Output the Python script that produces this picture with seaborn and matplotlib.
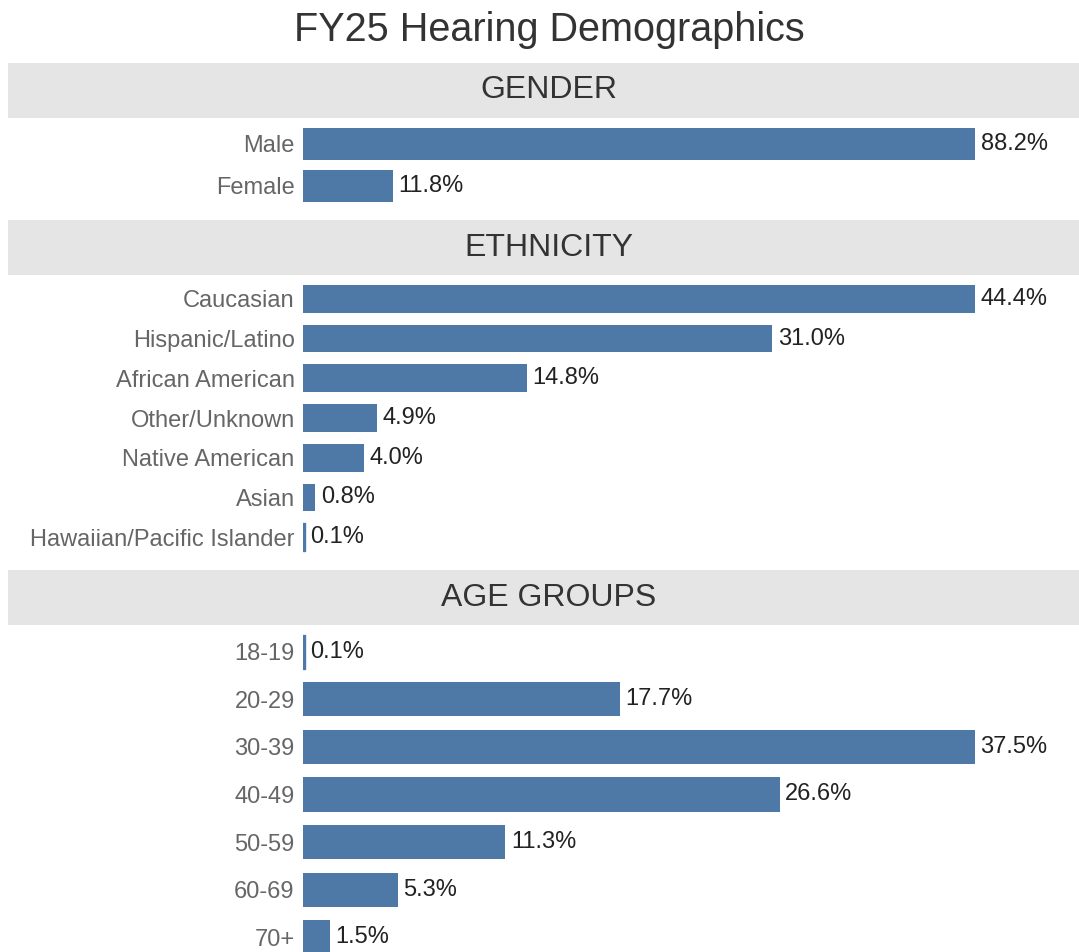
import pandas as pd
import seaborn as sns
import matplotlib.pyplot as plt

# values (percent)
gender_labels = ["Male", "Female"]
gender_values = [88.2, 11.8]

ethnicity_labels = ["Caucasian", "Hispanic/Latino", "African American", "Other/Unknown",
                    "Native American", "Asian", "Hawaiian/Pacific Islander"]
ethnicity_values = [44.4, 31.0, 14.8, 4.9, 4.0, 0.8, 0.1]

age_labels = ["18-19", "20-29", "30-39", "40-49", "50-59", "60-69", "70+"]
age_values = [0.1, 17.7, 37.5, 26.6, 11.3, 5.3, 1.5]

sns.set_theme(style="white")
plt.rcParams['font.family'] = ['Liberation Sans', 'DejaVu Sans']

W, H = 1079, 952
BAR_COLOR = "#4e79a7"

fig = plt.figure(figsize=(W / 100, H / 100), dpi=100)
fig.text(549 / W, 1 - 30 / H, "FY25 Hearing Demographics", ha="center", va="center",
         fontsize=28.5, color="#333333")


def px_axes(x0, y0, x1, y1):
    # pixel box (top-left origin) -> figure axes
    return fig.add_axes([x0 / W, 1 - y1 / H, (x1 - x0) / W, (y1 - y0) / H])


def header(title, y0, y1):
    ax = px_axes(8, y0, W, y1)
    ax.set_facecolor("#e5e5e5")
    ax.set_xticks([])
    ax.set_yticks([])
    for s in ax.spines.values():
        s.set_visible(False)
    # text is centred on the figure title, not on the band
    ax.text((549 - 8) / (W - 8), 0.5, title, transform=ax.transAxes, ha="center",
            va="center", fontsize=23, color="#333333")


def section(labels, values, y0, y1, width):
    ax = px_axes(303, y0, 975, y1)
    df = pd.DataFrame({"label": labels, "value": values})
    sns.barplot(data=df, x="value", y="label", color=BAR_COLOR, saturation=1,
                width=width, linewidth=0, ax=ax)
    ax.set_xlim(0, max(values))
    ax.set_ylim(len(labels) - 0.5, -0.5)
    ax.set_xlabel("")
    ax.set_ylabel("")
    ax.set_xticks([])
    ax.tick_params(axis="y", length=0, pad=6, labelsize=17, labelcolor="#666666")
    for s in ax.spines.values():
        s.set_visible(False)
    for p in ax.patches:
        if p.get_width() < 0.5:
            # tiny values still show as a hairline
            p.set_linewidth(1.0)
            p.set_edgecolor(BAR_COLOR)
    ax.bar_label(ax.containers[0], labels=[f"{v:.1f}%" for v in values],
                 padding=4, fontsize=17, color="#222222", clip_on=False)
    return ax


header("GENDER", 63, 118)
section(gender_labels, gender_values, 123, 207, 0.76)

header("ETHNICITY", 220, 275)
section(ethnicity_labels, ethnicity_values, 279, 557, 0.7)

header("AGE GROUPS", 570, 625)
section(age_labels, age_values, 628, 961, 0.72)

fig.savefig("out.png", dpi=100)
